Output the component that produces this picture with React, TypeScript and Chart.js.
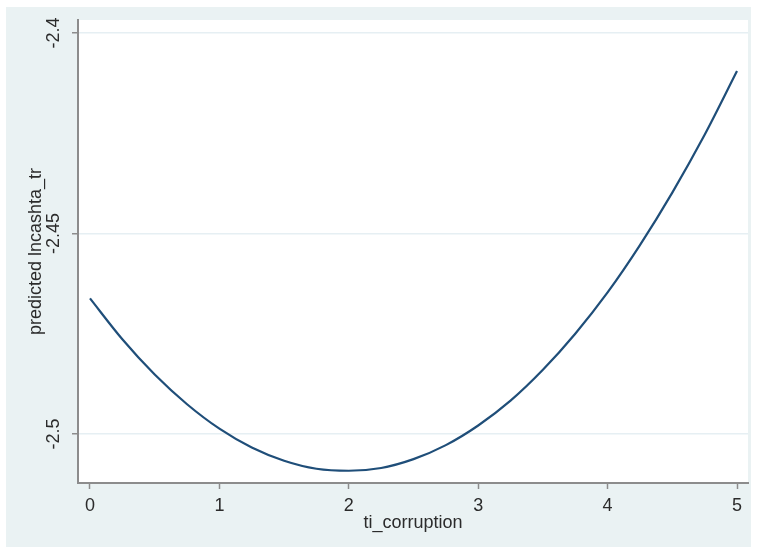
import React, { useEffect, useRef } from "react";
import { Chart, registerables } from "chart.js";

Chart.register(...registerables);

const xValues = [0, 0.25, 0.5, 0.75, 1, 1.25, 1.5, 1.75, 2, 2.25, 2.5, 2.75, 3, 3.25, 3.5, 3.75, 4, 4.25, 4.5, 4.75, 5];
const predicted = [
  -2.4662, -2.4764, -2.4852, -2.4926, -2.4987, -2.5034, -2.5067, -2.5087, -2.5092, -2.5085, -2.5063,
  -2.5028, -2.4979, -2.4917, -2.484, -2.475, -2.4647, -2.4529, -2.4398, -2.4254, -2.4095,
];
const xTicks = [0, 1, 2, 3, 4, 5];
const yTicks = [-2.5, -2.45, -2.4];
const yTickLabels = ["-2.5", "-2.45", "-2.4"];
const xTitle = "ti_corruption";
const yTitle = "predicted lncashta_tr";

const FONT = "'Liberation Sans', Arial, sans-serif";
const TEXT = "#2b2b2b";
const OUTER = "#eaf2f3";
const GRID = "#e6eff3";
const AXIS = "#8c8c8c";
const LINE = "#1f4e79";

const decorPlugin = {
  id: "decor",
  beforeDraw(chart: any) {
    const { ctx, chartArea, width, height } = chart;
    ctx.save();
    ctx.fillStyle = "#ffffff";
    ctx.fillRect(0, 0, width, height);
    ctx.fillStyle = OUTER;
    ctx.fillRect(6, 7, 745, height - 7);
    ctx.fillStyle = "#ffffff";
    ctx.fillRect(chartArea.left, chartArea.top, chartArea.right - chartArea.left, chartArea.bottom - chartArea.top);
    ctx.restore();
  },
  afterDraw(chart: any) {
    const { ctx, chartArea } = chart;
    const y = chart.scales.y;
    ctx.save();
    ctx.fillStyle = TEXT;
    ctx.textAlign = "center";
    ctx.textBaseline = "middle";
    ctx.font = `18px ${FONT}`;
    yTicks.forEach((v, i) => {
      const py = y.getPixelForValue(v);
      ctx.save();
      ctx.translate(54, py);
      ctx.rotate(-Math.PI / 2);
      ctx.fillText(yTickLabels[i], 0, 0);
      ctx.restore();
    });
    ctx.save();
    ctx.translate(36, (chartArea.top + chartArea.bottom) / 2);
    ctx.rotate(-Math.PI / 2);
    ctx.fillText(yTitle, 0, 0);
    ctx.restore();
    ctx.fillText(xTitle, (chartArea.left + chartArea.right) / 2, 523);
    ctx.restore();
  },
};

export default function App() {
  const ref = useRef<HTMLCanvasElement>(null);
  useEffect(() => {
    if (!ref.current) return;
    const chart = new Chart(ref.current, {
      type: "line",
      data: {
        datasets: [
          {
            data: xValues.map((x, i) => ({ x, y: predicted[i] })),
            borderColor: LINE,
            borderWidth: 2.2,
            pointRadius: 0,
            cubicInterpolationMode: "monotone",
            fill: false,
          },
        ],
      },
      options: {
        animation: false,
        responsive: false,
        maintainAspectRatio: false,
        layout: { padding: { left: 0, top: 20, right: 14, bottom: 0 } },
        plugins: { legend: { display: false }, tooltip: { enabled: false } },
        scales: {
          x: {
            type: "linear",
            min: -0.0927,
            max: 5.085,
            afterBuildTicks: (s: any) => {
              s.ticks = xTicks.map((v) => ({ value: v }));
            },
            afterFit: (s: any) => {
              s.height = 64;
            },
            grid: { drawOnChartArea: false, drawTicks: true, tickLength: 6, tickColor: AXIS, tickWidth: 1.5 },
            border: { color: AXIS, width: 2 },
            ticks: {
              color: TEXT,
              font: { family: FONT, size: 18 },
              padding: 6,
              maxRotation: 0,
              callback: (v: any) => String(v),
            },
          },
          y: {
            type: "linear",
            min: -2.51225,
            max: -2.39675,
            afterBuildTicks: (s: any) => {
              s.ticks = yTicks.map((v) => ({ value: v }));
            },
            afterFit: (s: any) => {
              s.width = 78;
            },
            grid: { color: GRID, lineWidth: 1.5, drawTicks: true, tickLength: 6, tickColor: AXIS, tickWidth: 1.5 },
            border: { color: AXIS, width: 2 },
            ticks: { display: false },
          },
        },
      },
      plugins: [decorPlugin],
    } as any);
    return () => chart.destroy();
  }, []);
  return (
    <div style={{ position: "fixed", left: 0, top: 0, width: 762, height: 547, background: "#fff" }}>
      <canvas ref={ref} width={762} height={547} style={{ display: "block", width: 762, height: 547 }} />
    </div>
  );
}
